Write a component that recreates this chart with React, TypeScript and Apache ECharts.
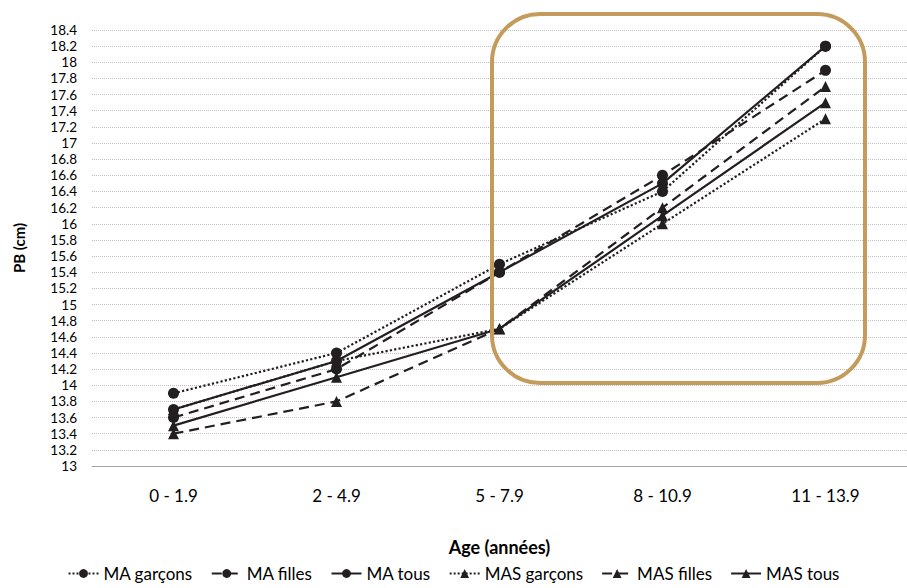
import React, { useEffect, useRef } from "react";
import * as echarts from "echarts";

const categories = ["0 - 1.9", "2 - 4.9", "5 - 7.9", "8 - 10.9", "11 - 13.9"];
const maGarcons = [13.9, 14.4, 15.5, 16.4, 18.2];
const maFilles = [13.6, 14.2, 15.4, 16.6, 17.9];
const maTous = [13.7, 14.3, 15.4, 16.5, 18.2];
const masGarcons = [13.7, 14.3, 14.7, 16.0, 17.3];
const masFilles = [13.4, 13.8, 14.7, 16.2, 17.7];
const masTous = [13.5, 14.1, 14.7, 16.1, 17.5];

const seriesDefs = [
  { name: "MA garçons", data: maGarcons, symbol: "circle", type: "dotted" },
  { name: "MA filles", data: maFilles, symbol: "circle", type: [10, 6] },
  { name: "MA tous", data: maTous, symbol: "circle", type: "solid" },
  { name: "MAS garçons", data: masGarcons, symbol: "triangle", type: "dotted" },
  { name: "MAS filles", data: masFilles, symbol: "triangle", type: [10, 6] },
  { name: "MAS tous", data: masTous, symbol: "triangle", type: "solid" },
];

const FONT = "Lato, 'Open Sans', sans-serif";
const INK = "#231f20";

export default function App() {
  const ref = useRef<HTMLDivElement>(null);
  useEffect(() => {
    if (!ref.current) return;
    const chart = echarts.init(ref.current, undefined, { renderer: "svg" });
    chart.setOption({
      animation: false,
      backgroundColor: "#ffffff",
      textStyle: { fontFamily: FONT },
      grid: { left: 92, top: 30, width: 828, height: 436, containLabel: false },
      xAxis: {
        type: "category",
        data: categories,
        boundaryGap: true,
        axisLine: { show: true, lineStyle: { color: "#a6a6a6", width: 1 } },
        axisTick: { show: false },
        axisLabel: { color: "#000", fontSize: 17, margin: 21, fontFamily: FONT },
        name: "Age (années)",
        nameLocation: "middle",
        nameGap: 72,
        nameTextStyle: { color: "#000", fontSize: 18, fontWeight: "bold", fontFamily: FONT },
      },
      yAxis: {
        type: "value",
        min: 13,
        max: 18.4,
        interval: 0.2,
        axisLine: { show: false },
        axisTick: { show: false },
        axisLabel: {
          color: "#000",
          fontSize: 13.5,
          margin: 15,
          fontFamily: FONT,
          formatter: (v: number) => String(Math.round(v * 10) / 10),
        },
        splitLine: { show: true, lineStyle: { color: "#bfbfbf", type: [1, 1], width: 1 } },
        name: "PB (cm)",
        nameLocation: "middle",
        nameGap: 66,
        nameRotate: 90,
        nameTextStyle: { color: "#000", fontSize: 15, fontWeight: "bold", fontFamily: FONT },
      },
      legend: {
        bottom: 1,
        left: "center",
        itemWidth: 30,
        itemHeight: 11,
        itemGap: 18,
        textStyle: { color: "#000", fontSize: 17, fontFamily: FONT },
        data: seriesDefs.map((s) => s.name),
      },
      series: seriesDefs.map((s) => ({
        name: s.name,
        type: "line",
        data: s.data,
        symbol: s.symbol,
        symbolSize: 11,
        showSymbol: true,
        itemStyle: { color: INK, borderWidth: 0 },
        lineStyle: { color: INK, width: 2.2, type: s.type },
        emphasis: { disabled: true },
        z: 3,
      })),
      graphic: [
        {
          type: "rect",
          shape: { x: 492, y: 14, width: 373, height: 369, r: 48 },
          style: { fill: "none", stroke: "#c39b5d", lineWidth: 4 },
          z: 10,
          silent: true,
        },
      ],
    });
    return () => chart.dispose();
  }, []);
  return (
    <div
      ref={ref}
      style={{ position: "fixed", left: 0, top: 0, width: 907, height: 588, background: "#fff" }}
    />
  );
}
